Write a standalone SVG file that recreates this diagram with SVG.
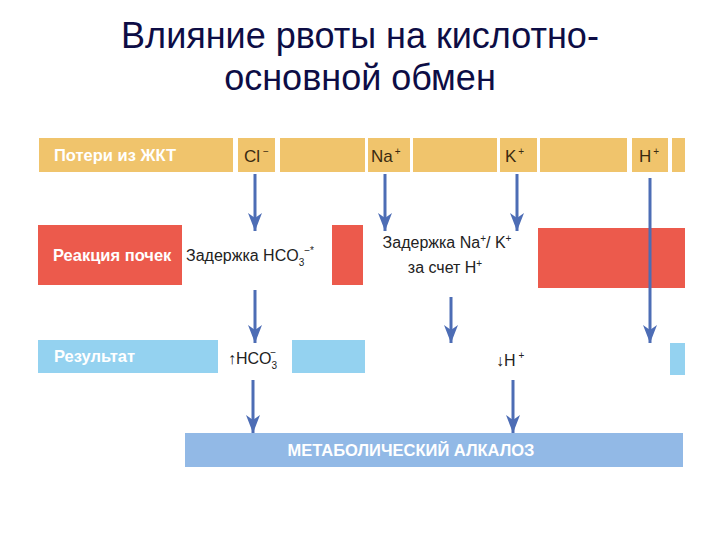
<svg xmlns="http://www.w3.org/2000/svg" width="720" height="540" viewBox="0 0 720 540">
<defs>
<style>
.title{font-family:"Liberation Sans",Arial,sans-serif;font-size:36px;fill:#0d0d45;text-anchor:middle}
.yel{fill:#f0c46c}
.red{fill:#ec5a4c}
.lb{fill:#94d2f0}
.bb{fill:#92b9e6}
.wl{font-family:"Liberation Sans",Arial,sans-serif;font-weight:bold;font-size:16.5px;fill:#fff}
.ion{font-family:"Liberation Sans",Arial,sans-serif;font-size:17px;fill:#3a2a10}
.bk{font-family:"Liberation Sans",Arial,sans-serif;font-size:16px;fill:#222}
.sup{font-size:10px}
.conn line{stroke:#4d6db5;stroke-width:3}
</style>
<marker id="ah" viewBox="0 0 18 14" refX="18" refY="7" markerWidth="18" markerHeight="14" markerUnits="userSpaceOnUse" orient="auto">
<path d="M0,0 L5,7 L0,14 L18,7 Z" fill="#4d6db5"/>
</marker>
</defs>
<rect width="720" height="540" fill="#fff"/>
<text class="title" x="360" y="48">Влияние рвоты на кислотно-</text>
<text class="title" x="360" y="90">основной обмен</text>

<g id="row-losses">
<rect class="yel" x="39" y="138" width="194" height="34"/>
<rect class="yel" x="238" y="138" width="37" height="34"/>
<rect class="yel" x="280" y="138" width="85" height="34"/>
<rect class="yel" x="368" y="138" width="42" height="34"/>
<rect class="yel" x="413" y="138" width="84" height="34"/>
<rect class="yel" x="500" y="138" width="37" height="34"/>
<rect class="yel" x="540" y="138" width="87" height="34"/>
<rect class="yel" x="632" y="138" width="36" height="34"/>
<rect class="yel" x="672" y="138" width="13" height="34"/>
<text class="wl" x="54" y="161">Потери из ЖКТ</text>
</g>
<g id="node-cl"><text class="ion" x="244" y="162">Cl<tspan class="sup" dx="3" dy="-7">−</tspan></text></g>
<g id="node-na"><text class="ion" x="371" y="162">Na<tspan class="sup" dx="2" dy="-7">+</tspan></text></g>
<g id="node-k"><text class="ion" x="505" y="162">K<tspan class="sup" dx="2" dy="-7">+</tspan></text></g>
<g id="node-h"><text class="ion" x="639" y="162">H<tspan class="sup" dx="2" dy="-7">+</tspan></text></g>

<g id="row-kidney">
<rect class="red" x="38" y="225" width="144" height="60"/>
<rect class="red" x="332" y="225" width="31" height="60"/>
<rect class="red" x="538" y="228" width="147" height="60"/>
<text class="wl" x="53" y="261" font-size="17">Реакция почек</text>
</g>
<g id="node-hco3-retention"><text class="bk" x="186" y="261" font-size="17">Задержка HCO<tspan class="sup" font-size="12" dy="5">3</tspan><tspan class="sup" dy="-12">−*</tspan></text></g>
<g id="node-nak-retention">
<text class="bk" x="447" y="248" text-anchor="middle" font-size="15.5">Задержка Na<tspan class="sup" dy="-6">+</tspan><tspan dy="6">/ K</tspan><tspan class="sup" dy="-6">+</tspan></text>
<text class="bk" x="445" y="273" text-anchor="middle" font-size="15.5">за счет H<tspan class="sup" dy="-6">+</tspan></text>
</g>

<g id="row-result">
<rect class="lb" x="38" y="340" width="180" height="33"/>
<rect class="lb" x="292" y="340" width="73" height="33"/>
<rect class="lb" x="670" y="343" width="15" height="32"/>
<text class="wl" x="54" y="362">Результат</text>
</g>
<g id="node-hco3-up"><text class="bk" x="228" y="364" font-size="17">↑HCO<tspan class="sup" font-size="12" dy="5">3</tspan><tspan class="sup" dx="-7" dy="-13">−</tspan></text></g>
<g id="node-h-down"><text class="bk" x="496" y="366" font-size="17">↓H<tspan class="sup" dx="3" dy="-7">+</tspan></text></g>

<g id="node-alkalosis">
<rect class="bb" x="185" y="433" width="498" height="34"/>
<text class="wl" x="411" y="456" text-anchor="middle" font-size="16">МЕТАБОЛИЧЕСКИЙ АЛКАЛОЗ</text>
</g>

<g id="connectors" class="conn">
<line x1="255" y1="174" x2="255" y2="231" marker-end="url(#ah)"/>
<line x1="385" y1="174" x2="385" y2="231" marker-end="url(#ah)"/>
<line x1="517" y1="174" x2="517" y2="231" marker-end="url(#ah)"/>
<line x1="650" y1="178" x2="650" y2="343" marker-end="url(#ah)"/>
<line x1="255" y1="290" x2="255" y2="343" marker-end="url(#ah)"/>
<line x1="451" y1="297" x2="451" y2="343" marker-end="url(#ah)"/>
<line x1="253" y1="380" x2="253" y2="433" marker-end="url(#ah)"/>
<line x1="513" y1="380" x2="513" y2="433" marker-end="url(#ah)"/>
</g>
</svg>
